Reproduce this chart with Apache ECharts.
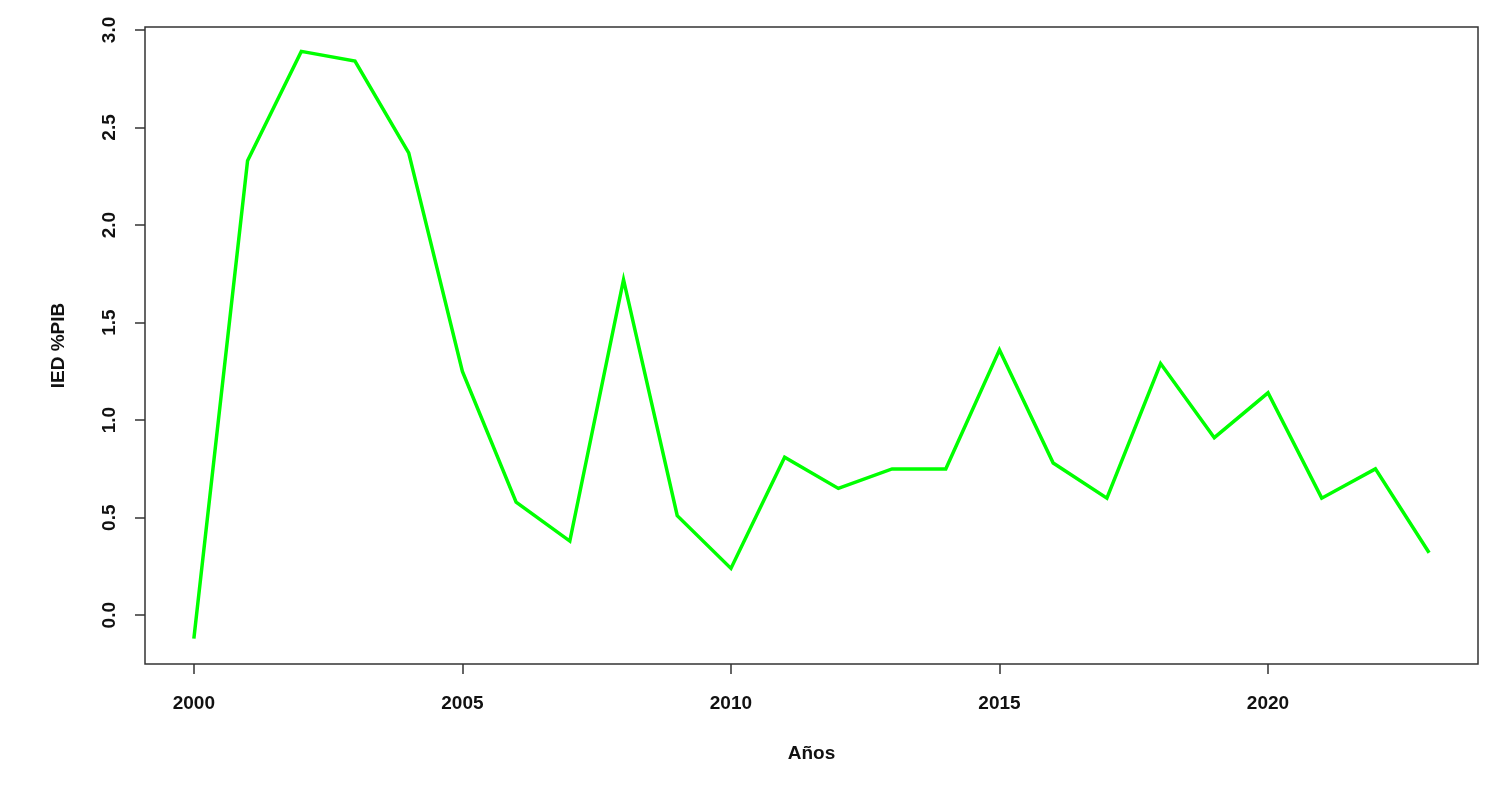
<!DOCTYPE html>
<html>
<head>
<meta charset="utf-8">
<script src="https://cdn.jsdelivr.net/npm/echarts@6/dist/echarts.min.js"></script>
<style>
html,body{margin:0;padding:0;background:#fff;}
#chart{width:1506px;height:787px;}
</style>
</head>
<body>
<div id="chart"></div>
<script>
const years = [2000,2001,2002,2003,2004,2005,2006,2007,2008,2009,2010,2011,2012,2013,2014,2015,2016,2017,2018,2019,2020,2021,2022,2023];
const iedPib = [-0.12,2.33,2.89,2.84,2.37,1.25,0.58,0.38,1.72,0.51,0.24,0.81,0.65,0.75,0.75,1.36,0.78,0.60,1.29,0.91,1.14,0.60,0.75,0.32];
const xTicks = [2000,2005,2010,2015,2020];
const yTicks = [0,0.5,1.0,1.5,2.0,2.5,3.0];
const xTitle = 'Años';
const yTitle = 'IED %PIB';

const font = 'Liberation Sans, Arial, sans-serif';
const chart = echarts.init(document.getElementById('chart'), null, {renderer:'canvas'});
chart.setOption({
  animation:false,
  backgroundColor:'#fff',
  grid:{left:145, top:27, right:28, bottom:123, show:true, borderColor:'#333', borderWidth:1.5, backgroundColor:'transparent'},
  xAxis:{
    type:'value', min:1999.09, max:2023.91,
    name:xTitle, nameLocation:'middle', nameGap:80,
    nameTextStyle:{fontFamily:font, fontSize:19, fontWeight:'bold', color:'#111'},
    axisLine:{show:false, onZero:false},
    splitLine:{show:false},
    axisTick:{show:true, length:10, inside:false, customValues:xTicks, lineStyle:{color:'#333', width:1.5}},
    axisLabel:{customValues:xTicks, margin:30, fontFamily:font, fontSize:19, fontWeight:'bold', color:'#111', formatter:v=>String(v)}
  },
  yAxis:{
    type:'value', min:-0.25, max:3.015,
    name:yTitle, nameLocation:'middle', nameGap:77, nameRotate:90,
    nameTextStyle:{fontFamily:font, fontSize:19, fontWeight:'bold', color:'#111'},
    axisLine:{show:false, onZero:false},
    splitLine:{show:false},
    axisTick:{show:true, length:10, inside:false, customValues:yTicks, lineStyle:{color:'#333', width:1.5}},
    axisLabel:{customValues:yTicks, rotate:90, margin:26, fontFamily:font, fontSize:19, fontWeight:'bold', color:'#111', formatter:v=>v.toFixed(1)}
  },
  series:[{
    type:'line',
    data:years.map((y,i)=>[y,iedPib[i]]),
    showSymbol:false,
    symbol:'none',
    lineStyle:{color:'#00ff00', width:3.5, join:'miter'},
    clip:false
  }]
});
</script>
</body>
</html>
